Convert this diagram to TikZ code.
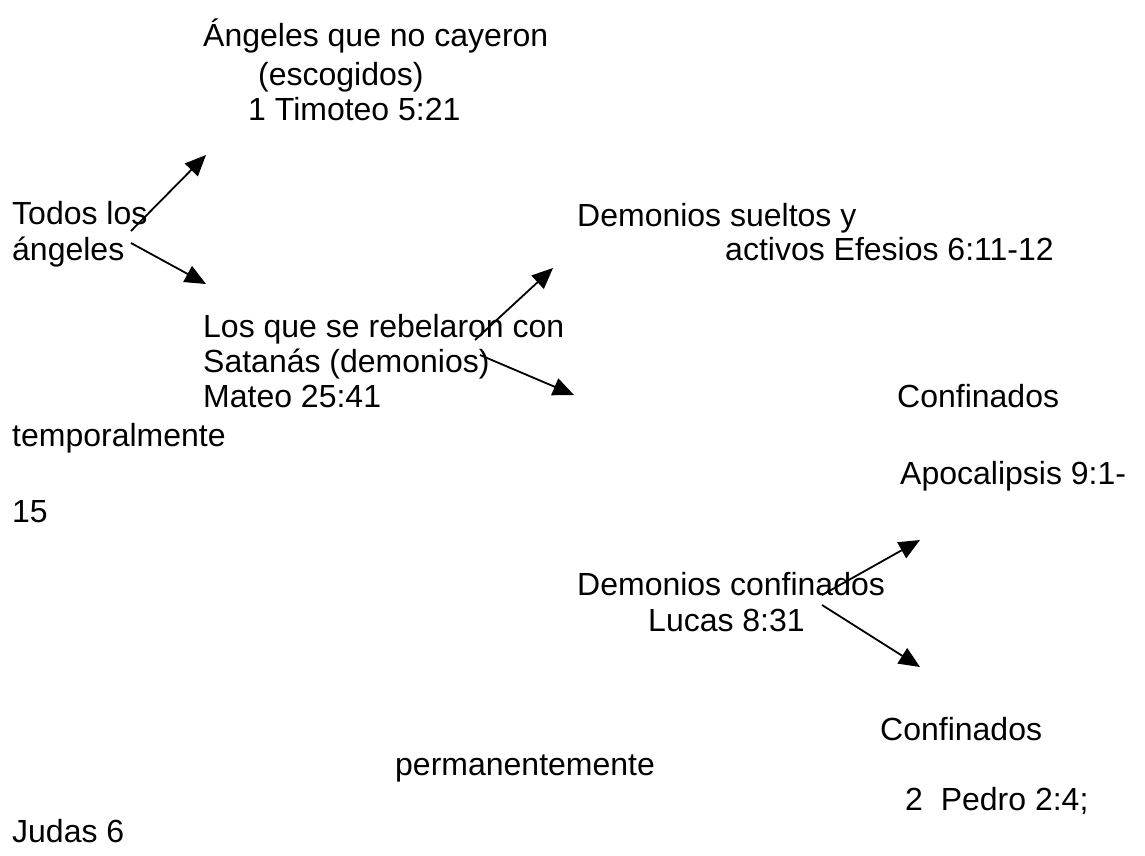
\documentclass[tikz,border=0pt]{standalone}
\usepackage{fontspec}
\setmainfont{Liberation Sans}
\usetikzlibrary{arrows.meta, positioning}

\begin{document}
\begin{tikzpicture}[
    x=1pt, y=-1pt,
    line/.style={anchor=base west, inner sep=0pt,
                 font=\fontsize{32}{36}\selectfont},
    link/.style={line width=1.8pt,
                 -{Triangle[length=21pt,width=18pt]}}]
        \useasboundingbox (0,0) rectangle (1145,855);

        % upper branch
        \node[line] (n_1) at (203,46) {Ángeles que no cayeron};
        \node[line] (n_2) at (258,85) {(escogidos)};
        \node[line] (n_3) at (248,120) {1 Timoteo 5:21};

        \node[line] (t_1) at (12,224) {Todos los};
        \node[line] (t_2) at (12,260) {ángeles};

        \node[line] (s_1) at (577,226) {Demonios sueltos y};
        \node[line] (s_2) at (725,260) {activos Efesios 6:11-12};

        \node[line] (r_1) at (203,337) {Los que se rebelaron con};
        \node[line] (r_2) at (203,372) {Satanás (demonios)};
        \node[line] (r_3) at (203,407) {Mateo 25:41};

        % confinados temporalmente
        \node[line] (c_1) at (897,407) {Confinados};
        \node[line] (c_2) at (12,446) {temporalmente};
        \node[line] (c_3) at (900,484) {Apocalipsis 9:1-};
        \node[line] (c_4) at (12,522) {15};

        \node[line] (d_1) at (577,595) {Demonios confinados};
        \node[line] (d_2) at (648,631) {Lucas 8:31};

        % confinados permanentemente
        \node[line] (p_1) at (880,740) {Confinados};
        \node[line] (p_2) at (395,775) {permanentemente};
        \node[line] (p_3) at (905,810) {2\ \ Pedro 2:4;};
        \node[line] (p_4) at (12,842) {Judas 6};

        \coordinate (t_a) at (131,231);
        \coordinate (t_b) at (131,243);
        \coordinate (n_tip) at (206,155);
        \coordinate (r_tip) at (206,284);

        \coordinate (r_a) at (475,340);
        \coordinate (r_b) at (480,355);
        \coordinate (s_tip) at (553,268);
        \coordinate (c_tip) at (574,395);

        \coordinate (d_a) at (822,595);
        \coordinate (d_b) at (822,605);
        \coordinate (ct_tip) at (920,540);
        \coordinate (cp_tip) at (920,667);

        \draw[link] (t_a) -- (n_tip);
        \draw[link] (t_b) -- (r_tip);

        \draw[link] (r_a) -- (s_tip);
        \draw[link] (r_b) -- (c_tip);

        \draw[link] (d_a) -- (ct_tip);
        \draw[link] (d_b) -- (cp_tip);

    \end{tikzpicture}
\end{document}
